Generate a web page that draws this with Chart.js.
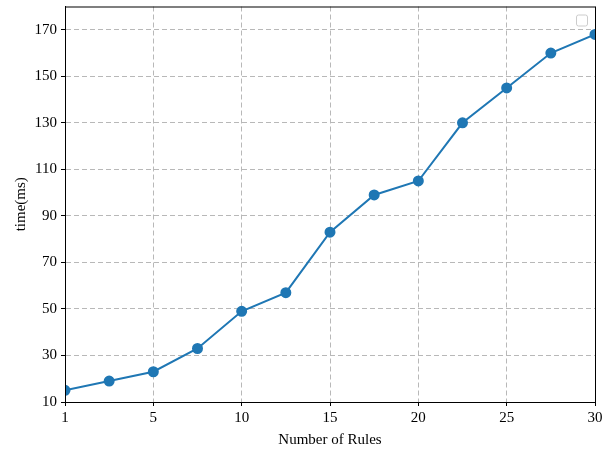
<!DOCTYPE html>
<html>
<head>
<meta charset="utf-8">
<script src="https://cdn.jsdelivr.net/npm/chart.js@4/dist/chart.umd.min.js"></script>
<style>
  body { margin: 0; background: #fff; }
  #wrap { width: 610px; height: 449px; }
</style>
</head>
<body>
<div id="wrap"><canvas id="rulesChart" width="610" height="449"></canvas></div>
<script>
// x tick labels (placed every other point) and measured times
const xTickLabels = ['1', '5', '10', '15', '20', '25', '30'];
const times = [15, 19, 23, 33, 49, 57, 83, 99, 105, 130, 145, 160, 168];
const yTicks = [10, 30, 50, 70, 90, 110, 130, 150, 170];

const points = times.map((t, i) => ({ x: i, y: t }));

const frameAndLegend = {
  id: 'frameAndLegend',
  afterDraw(chart) {
    const ctx = chart.ctx;
    const a = chart.chartArea;
    ctx.save();
    ctx.strokeStyle = '#000';
    ctx.lineWidth = 1;
    ctx.strokeRect(a.left + 0.5, a.top + 0.5, a.right - a.left, a.bottom - a.top);
    // empty legend box
    ctx.strokeStyle = '#cccccc';
    ctx.fillStyle = 'rgba(255,255,255,0.8)';
    ctx.beginPath();
    ctx.roundRect(a.right - 18.5, a.top + 8.5, 11, 11, 2);
    ctx.fill();
    ctx.stroke();
    ctx.restore();
  }
};

const font = { family: '"Liberation Serif", "Times New Roman", serif', size: 15 };

new Chart(document.getElementById('rulesChart').getContext('2d'), {
  type: 'line',
  data: {
    datasets: [{
      label: 'time',
      data: points,
      borderColor: '#1f77b4',
      backgroundColor: '#1f77b4',
      borderWidth: 2,
      pointRadius: 4.5,
      pointHoverRadius: 4.5,
      fill: false,
      tension: 0
    }]
  },
  options: {
    responsive: false,
    animation: false,
    layout: { padding: { top: 6, right: 15, left: 0, bottom: 0 } },
    plugins: { legend: { display: false }, tooltip: { enabled: false } },
    scales: {
      x: {
        type: 'linear',
        min: 0,
        max: 12,
        border: { display: true, color: '#000', dash: [5, 3] },
        grid: {
          color: '#b8b8b8',
          tickColor: '#000',
          tickBorderDash: [],
          tickLength: 4
        },
        ticks: {
          stepSize: 2,
          color: '#000',
          font: font,
          padding: 3,
          maxRotation: 0,
          callback: v => xTickLabels[v / 2]
        },
        title: { display: true, text: 'Number of Rules', color: '#000', font: { family: font.family, size: 15 }, padding: { top: 2, bottom: 0 } },
        afterFit: s => { s.height = 47; s.paddingLeft = 0; s.paddingRight = 0; }
      },
      y: {
        min: 10,
        max: 180,
        border: { display: true, color: '#000', dash: [5, 3] },
        grid: {
          color: '#b8b8b8',
          tickColor: '#000',
          tickBorderDash: [],
          tickLength: 4
        },
        afterBuildTicks: s => { s.ticks = yTicks.map(v => ({ value: v })); },
        ticks: { color: '#000', font: font, padding: 4 },
        title: { display: true, text: 'time(ms)', color: '#000', font: { family: font.family, size: 15 }, padding: { top: 12, bottom: 4 } },
        afterFit: s => { s.width = 65; s.paddingTop = 0; s.paddingBottom = 0; }
      }
    }
  },
  plugins: [frameAndLegend]
});
</script>
</body>
</html>
